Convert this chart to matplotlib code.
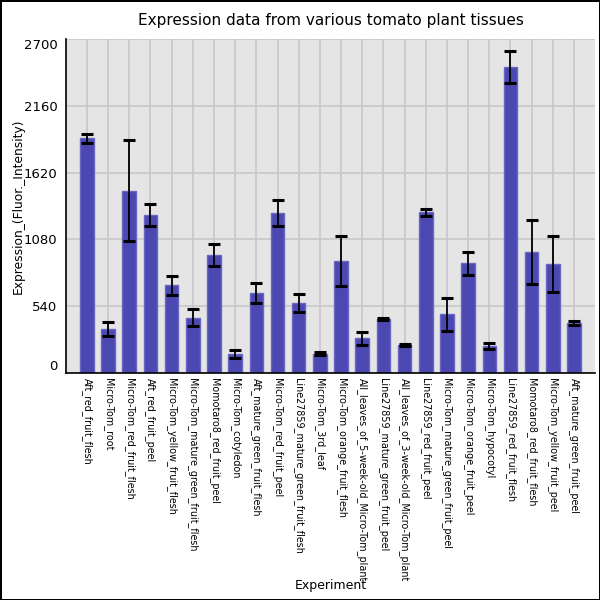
import matplotlib
matplotlib.use('Agg')
import matplotlib.pyplot as plt

# tissues in the order they are plotted
experiments = ['Aft_red_fruit_flesh', 'Micro-Tom_root', 'Micro-Tom_red_fruit_flesh',
               'Aft_red_fruit_peel', 'Micro-Tom_yellow_fruit_flesh',
               'Micro-Tom_mature_green_fruit_flesh', 'Momotaro8_red_fruit_peel',
               'Micro-Tom_cotyledon', 'Aft_mature_green_fruit_flesh',
               'Micro-Tom_red_fruit_peel', 'Line27859_mature_green_fruit_flesh',
               'Micro-Tom_3rd_leaf', 'Micro-Tom_orange_fruit_flesh',
               'All_leaves_of_5-week-old_Micro-Tom_plant',
               'Line27859_mature_green_fruit_peel',
               'All_leaves_of_3-week-old_Micro-Tom_plant', 'Line27859_red_fruit_peel',
               'Micro-Tom_mature_green_fruit_peel', 'Micro-Tom_orange_fruit_peel',
               'Micro-Tom_hypocotyl', 'Line27859_red_fruit_flesh',
               'Momotaro8_red_fruit_flesh', 'Micro-Tom_yellow_fruit_peel',
               'Aft_mature_green_fruit_peel']
expression = [1898, 352, 1475, 1277, 707, 446, 955, 153, 646, 1293, 564, 154, 906,
              277, 436, 225, 1298, 471, 887, 216, 2477, 976, 881, 405]
error = [38, 55, 409, 92, 78, 68, 88, 31, 82, 105, 73, 11, 204,
         50, 9, 9, 30, 133, 93, 27, 131, 258, 225, 16]
yticks = [0, 540, 1080, 1620, 2160, 2700]

fig = plt.figure(figsize=(6, 6), dpi=100)
fig.patch.set_edgecolor('black')
fig.patch.set_linewidth(2)
ax = fig.add_axes([0.1095, 0.379, 0.8825, 0.5555])
ax.set_facecolor('#e5e5e5')

x = range(len(experiments))
ax.bar(x, expression, width=0.64, color='#4b48b1', edgecolor='#6a67c4', linewidth=1,
       zorder=2)
ax.errorbar(x, expression, yerr=error, fmt='none', ecolor='black', elinewidth=1.3,
            capsize=4.5, capthick=2.2, zorder=3)

ax.set_xlim(-1, 24)
ax.set_ylim(0, 2700)
ax.set_xticks(list(x))
ax.set_xticklabels(experiments, rotation=270, fontsize=6.9, va='top', ha='center')
ax.set_yticks(yticks)
ax.set_yticklabels([str(v) for v in yticks], fontsize=9.5)
labs = ax.get_yticklabels()
labs[0].set_va('bottom')
labs[-1].set_va('top')
ax.tick_params(axis='y', length=0, pad=6)
ax.tick_params(axis='x', length=0, pad=4)
ax.grid(True, color='#c8c8c8', linewidth=1.2, zorder=0)
ax.set_axisbelow(True)
for s in ['top', 'right']:
    ax.spines[s].set_visible(False)
ax.spines['left'].set_linewidth(1.2)
ax.spines['bottom'].set_linewidth(1.2)

ax.set_title('Expression data from various tomato plant tissues', fontsize=11, pad=10)
ax.set_ylabel('Expression_(Fluor._Intensity)', fontsize=8.8)
ax.yaxis.set_label_coords(-0.077, 0.5)
ax.set_xlabel('Experiment', fontsize=9)
ax.xaxis.set_label_coords(0.5, -0.62)

plt.savefig('out.png', dpi=100, edgecolor=fig.get_edgecolor())
